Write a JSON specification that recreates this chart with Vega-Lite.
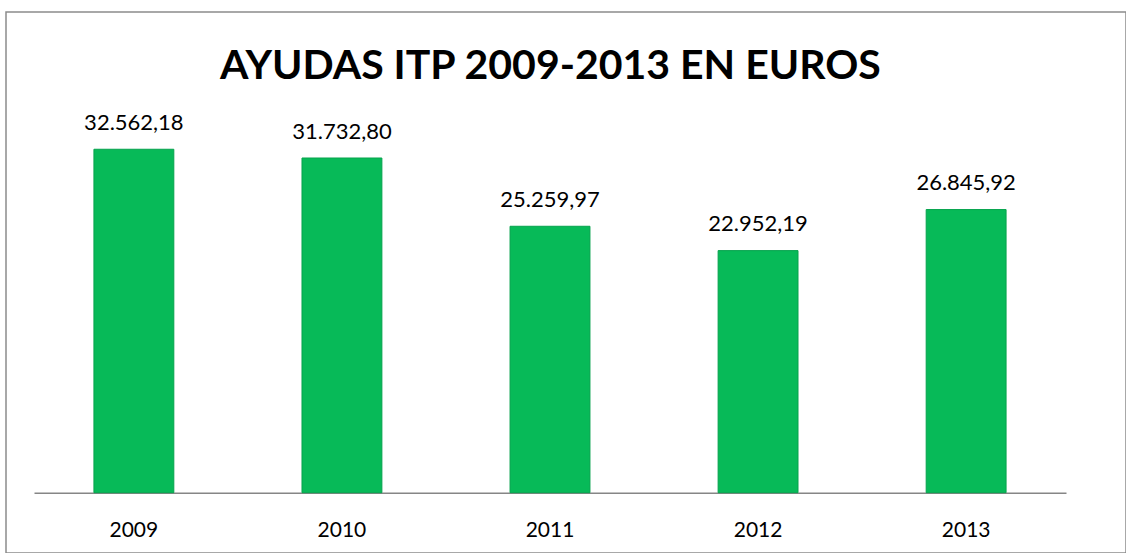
{
  "$schema": "https://vega.github.io/schema/vega-lite/v6.json",
  "usermeta": {"embedOptions": {"actions": false}},
  "autosize": {"type": "none"},
  "padding": {"left": 6, "top": 12, "right": 0, "bottom": 0},
  "width": 1120,
  "height": 541,
  "background": "white",
  "config": {
    "view": {"stroke": "#8c8c8c", "strokeWidth": 1.5},
    "font": "Lato",
    "locale": {"number": {"decimal": ",", "thousands": ".", "grouping": [3], "currency": ["", " €"]}}
  },
  "title": {
    "text": "AYUDAS ITP 2009-2013 EN EUROS",
    "frame": "group",
    "anchor": "start",
    "orient": "top",
    "baseline": "alphabetic",
    "offset": -108,
    "dx": 214,
    "font": "Lato",
    "fontSize": 41,
    "fontWeight": "bold",
    "color": "#000000"
  },
  "data": {
    "values": [
      {"year": "2009", "euros": 32562.18},
      {"year": "2010", "euros": 31732.80},
      {"year": "2011", "euros": 25259.97},
      {"year": "2012", "euros": 22952.19},
      {"year": "2013", "euros": 26845.92}
    ]
  },
  "encoding": {
    "x": {
      "field": "year",
      "type": "nominal",
      "sort": null,
      "scale": {"range": [28, 1060], "paddingInner": 0.616, "paddingOuter": 0.288},
      "axis": {
        "title": null,
        "orient": "bottom",
        "offset": -60.3,
        "ticks": false,
        "grid": false,
        "domainColor": "#868686",
        "domainWidth": 1.5,
        "labelAngle": 0,
        "labelBaseline": "alphabetic",
        "labelPadding": 44,
        "labelFont": "Lato",
        "labelFontSize": 21,
        "labelColor": "#000000"
      }
    },
    "y": {
      "field": "euros",
      "type": "quantitative",
      "scale": {"domain": [0, 36000], "range": [480.7, 101], "nice": false, "zero": true},
      "axis": null
    }
  },
  "layer": [
    {
      "mark": {"type": "bar", "color": "#07BA58", "stroke": "#06a34d", "strokeWidth": 1}
    },
    {
      "mark": {"type": "text", "baseline": "alphabetic", "dy": -19.5, "font": "Lato", "fontSize": 22, "color": "#000000"},
      "encoding": {
        "text": {"field": "euros", "type": "quantitative", "format": ",.2f"}
      }
    }
  ]
}
